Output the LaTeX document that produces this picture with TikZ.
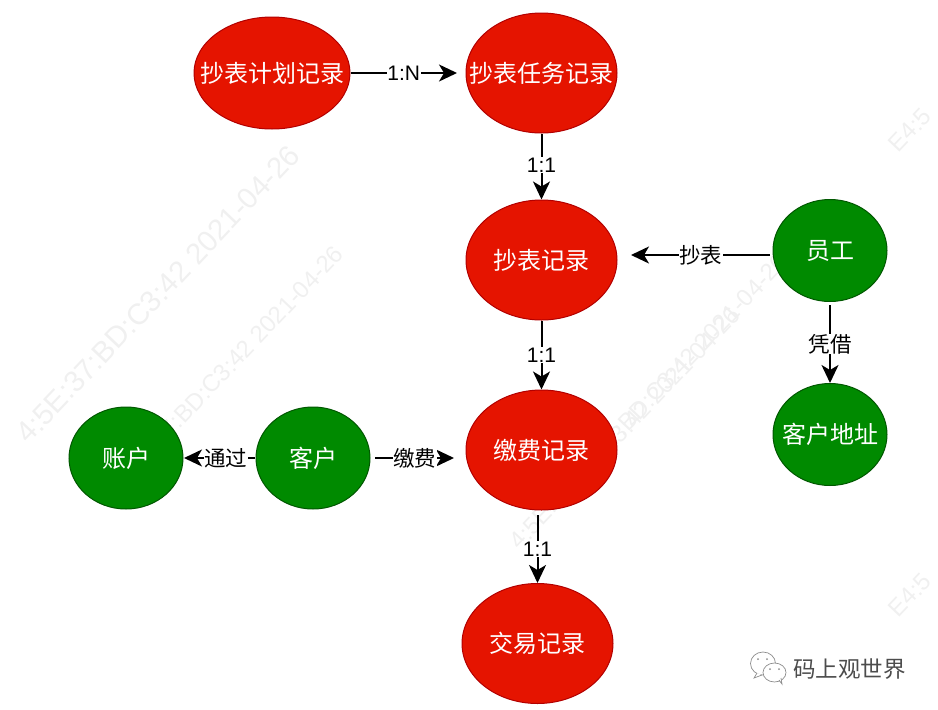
\documentclass[tikz,border=0pt]{standalone}
\usepackage{fontspec}
\setmainfont{Liberation Sans}
\newfontfamily\cjk{Noto Sans CJK SC}
\usetikzlibrary{arrows.meta,shapes.geometric}
\definecolor{redfill}{HTML}{E51400}
\definecolor{redline}{HTML}{B20000}
\definecolor{greenfill}{HTML}{008A00}
\definecolor{greenline}{HTML}{005700}
\tikzset{
  x=1pt,y=-1pt,
  ent/.style={ellipse,draw=redline,fill=redfill,line width=1pt,inner sep=0pt,
    minimum width=151pt,minimum height=120pt},
  act/.style={ent,draw=greenline,fill=greenfill,minimum width=114pt,minimum height=102pt},
  cap text/.style={text=white,inner sep=0pt,font=\cjk\fontsize{24}{26}\selectfont},
  link/.style={line width=2pt,black,-{Stealth[length=18pt,width=17pt,inset=5pt]}},
  lab/.style={fill=white,inner sep=0.5pt,text=black,font=\cjk\fontsize{21.5}{24}\selectfont},
  latin/.style={font=\fontsize{21}{24}\selectfont},
  wm/.style={text=black!6,rotate=46.5,anchor=center},
  chat/.style={draw=black!45,fill=white,line width=.7pt},
}
\begin{document}
\begin{tikzpicture}
\useasboundingbox (0,0) rectangle (938,710);
% watermarks
\node[wm,font=\fontsize{29.5}{32}\selectfont] (w1) at (158,294) {4:5E:37:BD:C3:42 2021-04-26};
\node[wm,font=\fontsize{24}{26}\selectfont] (w2) at (228,367) {4:5E:37:BD:C3:42 2021-04-26};
\node[wm,font=\fontsize{24}{26}\selectfont] (w3) at (625,428) {4:5E:37:BD:C3:42 2021-04-26};
\node[wm,font=\fontsize{24}{26}\selectfont] (w3b) at (672,375) {4:5E:37:BD:C3:42 2021-04-26};
\node[wm,font=\fontsize{24}{26}\selectfont] (w4) at (910,130) {E4:5};
\node[wm,font=\fontsize{24}{26}\selectfont] (w5) at (910,595) {E4:5};
% nodes
\node[ent,minimum width=156pt,minimum height=112pt,label={[cap text]center:抄表计划记录}] (plan) at (272,73) {};
\node[ent,label={[cap text]center:抄表任务记录}] (task) at (541.5,73) {};
\node[ent,label={[cap text]center:抄表记录}] (read) at (541.5,260) {};
\node[ent,label={[cap text]center:缴费记录}] (pay) at (541.5,450) {};
\node[ent,label={[cap text]center:交易记录}] (trade) at (537.5,643.5) {};
\node[act,label={[cap text]center:员工}] (staff) at (830,250.5) {};
\node[act,label={[cap text]center:客户地址}] (addr) at (830,434.5) {};
\node[act,label={[cap text]center:账户}] (acct) at (126,458) {};
\node[act,label={[cap text]center:客户}] (cust) at (313,458) {};
% connector end points
\coordinate (c1) at (457,73);
\coordinate (c2) at (770,255);
\coordinate (c3) at (631,255);
\coordinate (c4) at (830,305);
\coordinate (c5) at (375,458);
\coordinate (c6) at (454,458);
\coordinate (c7) at (255,458);
\coordinate (c8) at (184,458);
\coordinate (c9) at (537.5,515);
% connectors
\draw[link] (plan.east) -- node[lab,latin,pos=.5] (l1) {1:N} (c1);
\draw[link] (task.south) -- node[lab,latin,pos=.48] (l2) {1:1} (read.north);
\draw[link] (read.south) -- node[lab,latin,pos=.5] (l3) {1:1} (pay.north);
\draw[link] (c9) -- node[lab,latin,pos=.5] (l4) {1:1} (trade.north);
\draw[link] (c2) -- node[lab,pos=.5] (l5) {抄表} (c3);
\draw[link] (c4) -- node[lab,pos=.5] (l6) {凭借} (addr.north);
\draw[link] (c5) -- node[lab,pos=.5] (l7) {缴费} (c6);
\draw[link] (c7) -- node[lab,pos=.41] (l8) {通过} (c8);
% footer logo
\node[text=black!70,font=\cjk\fontsize{22.5}{24}\selectfont,anchor=west,inner sep=0pt] (brand) at (793,669) {码上观世界};
\draw[chat] (763,663.5) ellipse (12.5 and 11.5);
\draw[chat] (757,673) -- (754,678) -- (762,675);
\draw[chat] (774.5,672.5) ellipse (11.5 and 9.5);
\draw[chat] (779,680) -- (782,684) -- (781,678);
\fill[black!45] (758,659) circle (1) (767,659) circle (1) (770,669) circle (1) (779,669) circle (1);
\end{tikzpicture}
\end{document}
